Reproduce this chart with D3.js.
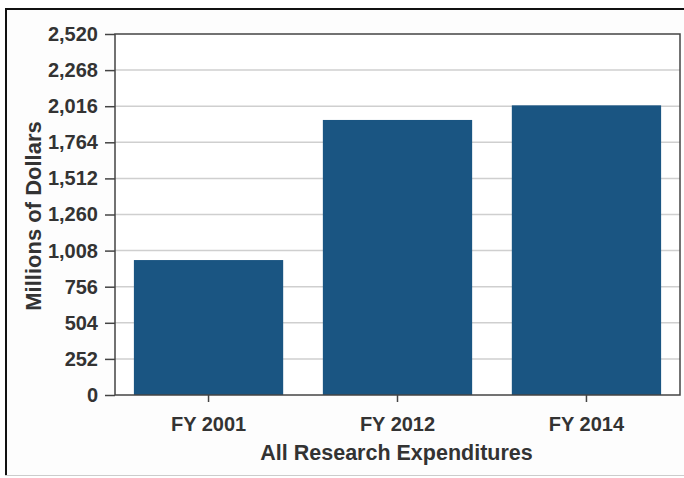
<!DOCTYPE html>
<html>
<head>
<meta charset="utf-8">
<script src="https://cdn.jsdelivr.net/npm/d3@7"></script>
<style>
  body { margin: 0; background: #fff; }
  svg { display: block; }
  text { font-family: "Liberation Sans", Arial, sans-serif; font-weight: bold; fill: #333; }
</style>
</head>
<body>
<div id="chart"></div>
<script>
// data
const categories = ["FY 2001", "FY 2012", "FY 2014"];
const values = [942, 1920, 2022];
const yTicks = [0, 252, 504, 756, 1008, 1260, 1512, 1764, 2016, 2268, 2520];

const W = 684, H = 478;
const margin = { top: 34, right: 4, bottom: 83, left: 115 };
const iw = W - margin.left - margin.right;
const ih = H - margin.top - margin.bottom;

const svg = d3.select("#chart").append("svg")
    .attr("width", W)
    .attr("height", H);

// outer frame
svg.append("rect").attr("x", 5).attr("y", 8).attr("width", W).attr("height", 467)
    .attr("fill", "#fdfdfd");
svg.append("line").attr("x1", 5).attr("x2", W).attr("y1", 9).attr("y2", 9)
    .attr("stroke", "#111").attr("stroke-width", 2);
svg.append("line").attr("x1", 6).attr("x2", 6).attr("y1", 8).attr("y2", 475)
    .attr("stroke", "#111").attr("stroke-width", 2);
svg.append("line").attr("x1", 5).attr("x2", W).attr("y1", 475.5).attr("y2", 475.5)
    .attr("stroke", "#ccc").attr("stroke-width", 1);

const x = d3.scaleBand().domain(categories).range([0, iw]).paddingInner(0.21).paddingOuter(0.1);
const y = d3.scaleLinear().domain([0, 2520]).range([ih, 0]);

const g = svg.append("g").attr("transform", `translate(${margin.left},${margin.top})`);

g.append("rect").attr("width", iw).attr("height", ih).attr("fill", "#fff");

// gridlines
g.append("g").selectAll("line")
    .data(yTicks.filter(d => d > 0 && d < 2520))
    .join("line")
    .attr("x1", 0).attr("x2", iw)
    .attr("y1", d => y(d)).attr("y2", d => y(d))
    .attr("stroke", "#cfcfcf").attr("stroke-width", 1.5);

// bars
g.append("g").selectAll("rect")
    .data(values)
    .join("rect")
    .attr("x", (d, i) => x(categories[i]))
    .attr("y", d => y(d))
    .attr("width", x.bandwidth())
    .attr("height", d => ih - y(d))
    .attr("fill", "#1a5582");

// plot frame
g.append("rect").attr("width", iw).attr("height", ih)
    .attr("fill", "none").attr("stroke", "#444").attr("stroke-width", 1.5);

// y axis
const yAxis = g.append("g")
    .call(d3.axisLeft(y).tickValues(yTicks).tickFormat(d3.format(",")).tickSize(10).tickPadding(7));
yAxis.select(".domain").remove();
yAxis.selectAll(".tick line").attr("stroke", "#444").attr("stroke-width", 1.5);
yAxis.selectAll(".tick text").style("font-size", "20px").style("font-weight", "bold")
    .attr("fill", "#333");

// x axis
const xAxis = g.append("g").attr("transform", `translate(0,${ih})`)
    .call(d3.axisBottom(x).tickSize(7).tickPadding(15));
xAxis.select(".domain").remove();
xAxis.selectAll(".tick line").attr("stroke", "#444").attr("stroke-width", 1.5);
xAxis.selectAll(".tick text").style("font-size", "20px").style("font-weight", "bold")
    .attr("fill", "#333");

// axis titles
svg.append("text")
    .attr("x", margin.left + iw / 2 - 1).attr("y", 460)
    .attr("text-anchor", "middle")
    .style("font-size", "21.5px")
    .text("All Research Expenditures");

svg.append("text")
    .attr("transform", `translate(41,216) rotate(-90)`)
    .attr("text-anchor", "middle")
    .style("font-size", "22px")
    .text("Millions of Dollars");
</script>
</body>
</html>
